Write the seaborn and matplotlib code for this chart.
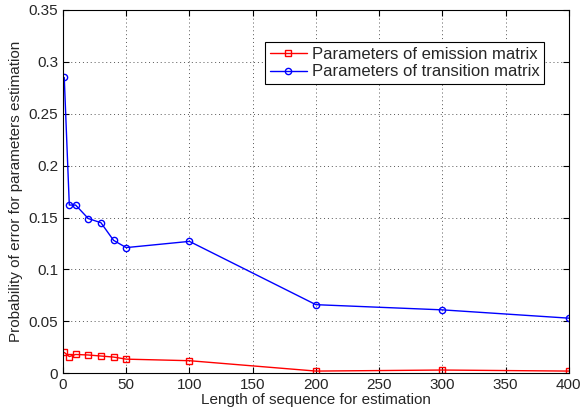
import matplotlib
matplotlib.use('Agg')
import matplotlib.pyplot as plt
import seaborn as sns
import pandas as pd

seq_len = [1, 5, 10, 20, 30, 40, 50, 100, 200, 300, 400]
err_emission = [0.020, 0.016, 0.018, 0.0175, 0.0165, 0.0155, 0.0135, 0.012, 0.002, 0.003, 0.002]
err_transition = [0.285, 0.162, 0.162, 0.149, 0.145, 0.128, 0.121, 0.127, 0.066, 0.061, 0.053]

sns.set_style('ticks')
plt.rcParams['font.family'] = ['Liberation Sans', 'DejaVu Sans']
plt.rcParams['xtick.direction'] = 'in'
plt.rcParams['ytick.direction'] = 'in'

fig = plt.figure(figsize=(5.81, 4.16), dpi=100)
ax = fig.add_axes([0.1084, 0.103, 0.8706, 0.873])

df_e = pd.DataFrame({'x': seq_len, 'y': err_emission})
df_t = pd.DataFrame({'x': seq_len, 'y': err_transition})

sns.lineplot(data=df_e, x='x', y='y', ax=ax, color='red', marker='s', markersize=4.5,
             markerfacecolor='none', markeredgecolor='red', markeredgewidth=1,
             linewidth=1, label='Parameters of emission matrix')
sns.lineplot(data=df_t, x='x', y='y', ax=ax, color='blue', marker='o', markersize=4.5,
             markerfacecolor='none', markeredgecolor='blue', markeredgewidth=1,
             linewidth=1, label='Parameters of transition matrix')

ax.set_xlim(0, 400)
ax.set_ylim(0, 0.35)
ax.set_xticks(range(0, 401, 50))
ax.set_yticks([0, 0.05, 0.1, 0.15, 0.2, 0.25, 0.3, 0.35])
ax.set_yticklabels(['0', '0.05', '0.1', '0.15', '0.2', '0.25', '0.3', '0.35'])
ax.grid(True, color='#555555', linestyle=(0, (1, 3)), linewidth=0.7)
ax.tick_params(labelsize=11, top=True, right=True, length=4, color='black')
for s in ax.spines.values():
    s.set_color('black')
    s.set_linewidth(0.8)

ax.set_xlabel('Length of sequence for estimation', fontsize=11, labelpad=1)
ax.set_ylabel('Probability of error for parameters estimation', fontsize=11, labelpad=4)

leg = ax.legend(loc='upper right', bbox_to_anchor=(0.968, 0.935), fontsize=12,
                fancybox=False, framealpha=1, edgecolor='black', borderpad=0.3,
                handlelength=2.2, labelspacing=0.15, handletextpad=0.3)
leg.get_frame().set_linewidth(0.8)

fig.savefig('out.png', dpi=100)
